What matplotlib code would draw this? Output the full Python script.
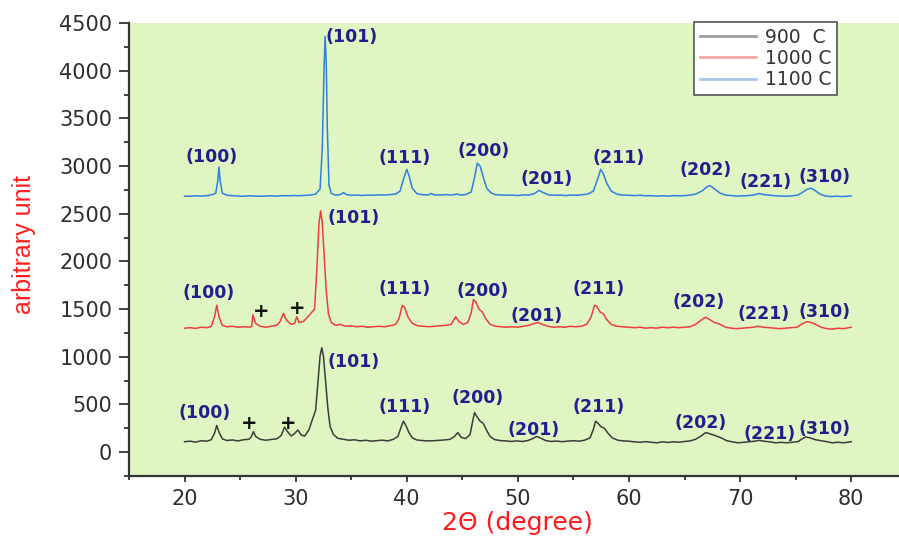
import matplotlib
matplotlib.use("Agg")
import matplotlib.pyplot as plt
from matplotlib.lines import Line2D
from matplotlib.ticker import MultipleLocator

# ---------------- data ----------------
x_900 = [20.0, 20.5, 21.0, 21.5, 22.0, 22.4, 22.7, 22.9, 23.1, 23.4, 23.8, 24.3, 24.8, 25.3, 25.8, 26.0, 26.2, 26.4,
         26.8, 27.3, 27.8, 28.3, 28.7, 29.0, 29.3, 29.6, 29.9, 30.2, 30.5, 30.8, 31.2, 31.5, 31.8, 32.0, 32.2, 32.35,
         32.5, 32.7, 32.9, 33.1, 33.4, 33.8, 34.3, 34.8, 35.3, 35.8, 36.3, 36.8, 37.3, 37.8, 38.3, 38.8, 39.2, 39.5,
         39.7, 39.9, 40.2, 40.5, 40.9, 41.4, 41.9, 42.4, 42.9, 43.4, 43.9, 44.3, 44.6, 44.9, 45.3, 45.7, 45.9, 46.1,
         46.3, 46.6, 46.9, 47.2, 47.5, 47.9, 48.4, 48.9, 49.4, 49.9, 50.4, 50.9, 51.3, 51.7, 52.1, 52.5, 53.0, 53.5,
         54.0, 54.5, 55.0, 55.5, 56.0, 56.5, 56.8, 57.0, 57.2, 57.5, 57.8, 58.1, 58.5, 59.0, 59.5, 60.0, 60.5, 61.0,
         61.5, 62.0, 62.5, 63.0, 63.5, 64.0, 64.5, 65.0, 65.5, 66.0, 66.5, 66.9, 67.3, 67.8, 68.3, 68.8, 69.3, 69.8,
         70.3, 70.8, 71.3, 71.7, 72.2, 72.7, 73.2, 73.7, 74.2, 74.7, 75.2, 75.6, 75.9, 76.3, 76.8, 77.3, 77.8, 78.3,
         78.8, 79.3, 79.7, 80.0]
y_900 = [110, 115, 105, 120, 115, 130, 200, 280, 210, 140, 122, 128, 118, 130, 135, 160, 215, 165,
         135, 125, 132, 140, 175, 262, 210, 170, 195, 232, 180, 168, 235, 340, 440, 720, 1010, 1095,
         1010, 730, 460, 270, 185, 145, 135, 125, 130, 118, 125, 115, 120, 126, 118, 135, 165, 265,
         325, 285, 205, 150, 128, 122, 118, 120, 124, 128, 135, 165, 205, 155, 142, 185, 305, 415,
         375, 325, 300, 225, 165, 132, 122, 118, 112, 118, 112, 122, 140, 165, 145, 122, 112, 116,
         110, 116, 120, 115, 125, 150, 240, 325, 305, 265, 250, 200, 150, 125, 118, 115, 108, 104,
         110, 104, 98, 108, 102, 108, 104, 112, 118, 135, 170, 205, 192, 172, 150, 120, 108, 98,
         103, 108, 114, 124, 114, 108, 98, 103, 98, 104, 110, 140, 160, 150, 130, 120, 110, 98,
         104, 98, 104, 110]

x_1000 = [20.0, 20.5, 21.0, 21.5, 22.0, 22.4, 22.7, 22.9, 23.1, 23.4, 23.8, 24.3, 24.8, 25.3, 25.8, 26.05, 26.15,
          26.4, 26.8, 27.3, 27.8, 28.3, 28.6, 28.9, 29.2, 29.6, 29.9, 30.1, 30.3, 30.7, 31.1, 31.4, 31.7, 31.9, 32.1,
          32.25, 32.4, 32.55, 32.75, 32.95, 33.2, 33.6, 34.0, 34.5, 35.0, 35.5, 36.0, 36.5, 37.0, 37.5, 38.0, 38.5,
          39.0, 39.3, 39.6, 39.8, 40.1, 40.5, 41.0, 41.5, 42.0, 42.5, 43.0, 43.5, 44.0, 44.4, 44.7, 45.1, 45.5, 45.8,
          46.0, 46.2, 46.5, 46.8, 47.1, 47.5, 48.0, 48.5, 49.0, 49.5, 50.0, 50.5, 51.0, 51.5, 51.8, 52.2, 52.7, 53.2,
          53.7, 54.2, 54.7, 55.2, 55.7, 56.2, 56.6, 56.9, 57.1, 57.4, 57.7, 58.0, 58.4, 58.9, 59.4, 60.0, 60.5, 61.0,
          61.5, 62.0, 62.5, 63.0, 63.5, 64.0, 64.5, 65.0, 65.5, 66.0, 66.5, 66.9, 67.2, 67.7, 68.2, 68.7, 69.2, 69.7,
          70.2, 70.7, 71.2, 71.6, 72.1, 72.6, 73.1, 73.6, 74.1, 74.6, 75.1, 75.5, 76.0, 76.4, 76.8, 77.3, 77.8, 78.3,
          78.8, 79.3, 79.8, 80.0]
y_1000 = [1300, 1305, 1298, 1310, 1305, 1320, 1420, 1540, 1420, 1330, 1315, 1320, 1310, 1315, 1310, 1320, 1440,
          1350, 1320, 1310, 1320, 1330, 1370, 1455, 1380, 1340, 1350, 1420, 1360, 1370, 1420, 1460, 1500, 1900, 2400,
          2530, 2400, 2100, 1700, 1450, 1360, 1330, 1340, 1320, 1325, 1315, 1320, 1310, 1315, 1320, 1315, 1325,
          1340, 1400, 1540, 1520, 1420, 1350, 1325, 1320, 1315, 1320, 1325, 1330, 1340, 1420, 1370, 1340, 1360, 1460,
          1600, 1580, 1500, 1470, 1400, 1340, 1320, 1315, 1310, 1315, 1310, 1320, 1330, 1350, 1360, 1340, 1320, 1310,
          1315, 1310, 1320, 1315, 1320, 1340, 1420, 1540, 1530, 1470, 1450, 1390, 1340, 1320, 1315, 1310, 1305, 1310,
          1300, 1305, 1300, 1310, 1305, 1310, 1305, 1310, 1315, 1340, 1385, 1415, 1395, 1360, 1340, 1310, 1300, 1295,
          1300, 1305, 1310, 1320, 1310, 1305, 1300, 1295, 1300, 1305, 1310, 1340, 1368, 1360, 1340, 1310, 1295, 1290,
          1300, 1295, 1305, 1310]

x_1100 = [20.0, 20.5, 21.0, 21.5, 22.0, 22.5, 22.8, 23.0, 23.1, 23.2, 23.4, 23.8, 24.3, 24.8, 25.3, 25.8, 26.3,
          26.8, 27.3, 27.8, 28.3, 28.8, 29.3, 29.8, 30.3, 30.8, 31.3, 31.8, 32.2, 32.4, 32.55, 32.65, 32.75, 32.85,
          33.0, 33.2, 33.6, 34.0, 34.3, 34.6, 35.0, 35.5, 36.0, 36.5, 37.0, 37.5, 38.0, 38.5, 39.0, 39.4, 39.7, 40.0,
          40.2, 40.5, 40.9, 41.4, 41.9, 42.2, 42.5, 43.0, 43.5, 44.0, 44.5, 44.9, 45.3, 45.8, 46.1, 46.35, 46.6, 46.9,
          47.2, 47.6, 48.0, 48.5, 49.0, 49.5, 50.0, 50.5, 51.0, 51.5, 51.9, 52.3, 52.8, 53.3, 53.8, 54.3, 54.8, 55.3,
          55.8, 56.3, 56.8, 57.2, 57.45, 57.7, 58.0, 58.4, 58.9, 59.4, 60.0, 60.5, 61.0, 61.5, 62.0, 62.5, 63.0, 63.5,
          64.0, 64.5, 65.0, 65.5, 66.0, 66.6, 67.0, 67.3, 67.7, 68.2, 68.7, 69.2, 69.7, 70.2, 70.7, 71.2, 71.7, 72.2,
          72.7, 73.2, 73.7, 74.2, 74.7, 75.2, 75.6, 76.0, 76.4, 76.8, 77.2, 77.7, 78.2, 78.7, 79.2, 79.7, 80.0]
y_1100 = [2685, 2683, 2688, 2685, 2690, 2700, 2715, 2850, 2990, 2850, 2715, 2695, 2690, 2685, 2683, 2688, 2685,
          2683, 2686, 2688, 2685, 2690, 2688, 2691, 2689, 2692, 2696, 2706, 2760, 3200, 4000, 4360, 4100, 3400,
          2800, 2715, 2695, 2700, 2722, 2700, 2694, 2696, 2691, 2696, 2694, 2698, 2696, 2701, 2706, 2738, 2860, 2965,
          2900, 2768, 2712, 2700, 2696, 2712, 2698, 2696, 2701, 2696, 2706, 2696, 2701, 2728, 2880, 3030, 3000, 2880,
          2768, 2716, 2700, 2696, 2694, 2696, 2690, 2698, 2696, 2711, 2745, 2721, 2696, 2694, 2696, 2690, 2696, 2694,
          2700, 2706, 2738, 2870, 2965, 2920, 2820, 2738, 2706, 2696, 2694, 2690, 2694, 2688, 2690, 2685, 2688, 2685,
          2690, 2688, 2690, 2696, 2706, 2740, 2782, 2795, 2760, 2716, 2696, 2690, 2685, 2688, 2690, 2696, 2712, 2700,
          2694, 2688, 2685, 2683, 2688, 2696, 2722, 2755, 2768, 2740, 2706, 2686, 2680, 2684, 2680, 2684, 2686]

series_labels = ["900  C", "1000 C", "1100 C"]

# Miller-index labels: (text, 2theta, intensity) for each series
hkl_900 = [("(100)", 21.8, 409), ("(101)", 35.2, 944), ("(111)", 39.77, 472), ("(200)", 46.4, 567),
           ("(201)", 51.45, 231), ("(211)", 57.3, 472), ("(202)", 66.45, 304), ("(221)", 72.7, 189),
           ("(310)", 77.6, 241)]
hkl_1000 = [("(100)", 22.16, 1668), ("(101)", 35.2, 2455), ("(111)", 39.77, 1710), ("(200)", 46.86, 1690),
            ("(201)", 51.7, 1427), ("(211)", 57.3, 1710), ("(202)", 66.3, 1574), ("(221)", 72.1, 1448),
            ("(310)", 77.6, 1469)]
hkl_1100 = [("(100)", 22.43, 3095), ("(101)", 35.0, 4355), ("(111)", 39.77, 3085), ("(200)", 46.95, 3158),
            ("(201)", 52.6, 2865), ("(211)", 59.08, 3085), ("(202)", 66.9, 2960), ("(221)", 72.3, 2833),
            ("(310)", 77.6, 2885)]
# impurity "+" marks: (2theta, intensity)
plus_marks = [(25.84, 304), (29.34, 304), (26.9, 1480), (30.15, 1511)]

# ---------------- styling ----------------
W, H = 899, 538
fig = plt.figure(figsize=(W / 100, H / 100), dpi=100)
fig.patch.set_facecolor("white")

left_px, right_px, top_px, bottom_px = 129, 906.7, 23, 476
ax = fig.add_axes([left_px / W, 1 - bottom_px / H, (right_px - left_px) / W, (bottom_px - top_px) / H])
ax.set_facecolor("#dff6c2")

line_colors = ["#3c3c3c", "#f03c3c", "#2f7fe0"]
for xs, ys, c in [(x_900, y_900, line_colors[0]), (x_1000, y_1000, line_colors[1]), (x_1100, y_1100, line_colors[2])]:
    ax.plot(xs, ys, color=c, lw=1.1)

ax.set_xlim(15, 85)
ax.set_ylim(-250, 4500)

ax.xaxis.set_major_locator(MultipleLocator(10))
ax.xaxis.set_minor_locator(MultipleLocator(5))
ax.yaxis.set_major_locator(MultipleLocator(500))
ax.yaxis.set_minor_locator(MultipleLocator(250))
ax.set_xticks([20, 30, 40, 50, 60, 70, 80])

for s in ["top", "right"]:
    ax.spines[s].set_visible(False)
for s in ["left", "bottom"]:
    ax.spines[s].set_linewidth(1.6)
    ax.spines[s].set_color("#333333")

ax.tick_params(axis="both", which="both", direction="out", colors="#333333", width=1.3)
ax.tick_params(axis="y", which="major", length=7, pad=5, labelsize=15, labelcolor="#2e2e2e")
ax.tick_params(axis="y", which="minor", length=3.5)
ax.tick_params(axis="x", which="major", length=4.5, pad=5, labelsize=15, labelcolor="#2e2e2e")
ax.tick_params(axis="x", which="minor", length=3)

ax.set_xlabel("2Θ (degree)", color="#ff1a1a", fontsize=18, labelpad=1.5)
fig.text(24 / W, 1 - 244 / H, "arbitrary unit", color="#ff2020", fontsize=18, rotation=90,
         ha="center", va="center", family=["Liberation Sans", "DejaVu Sans"])

label_color = "#1f1f8f"
for group in (hkl_900, hkl_1000, hkl_1100):
    for txt, xv, yv in group:
        ax.text(xv, yv, txt, color=label_color, fontsize=12.5, fontweight="bold", ha="center", va="center")
for xv, yv in plus_marks:
    ax.text(xv, yv, "+", color="#111111", fontsize=14, fontweight="bold", ha="center", va="center")

handles = [Line2D([], [], color=c, lw=2.0) for c in ["#a0a0a0", "#f7a6a6", "#a6c6f0"]]
leg = fig.legend(handles, series_labels, loc="upper left", bbox_to_anchor=(694 / W, 1 - 22 / H),
                 bbox_transform=fig.transFigure, frameon=True, fancybox=False, fontsize=13.5,
                 handlelength=3.0, handletextpad=0.5, labelspacing=0.12, borderpad=0.3, borderaxespad=0)
leg.get_frame().set_edgecolor("#555555")
leg.get_frame().set_linewidth(1.2)
leg.get_frame().set_facecolor("white")
leg.get_frame().set_alpha(1.0)
for t in leg.get_texts():
    t.set_color("#333333")

fig.savefig("out.png", dpi=100, facecolor="white")
